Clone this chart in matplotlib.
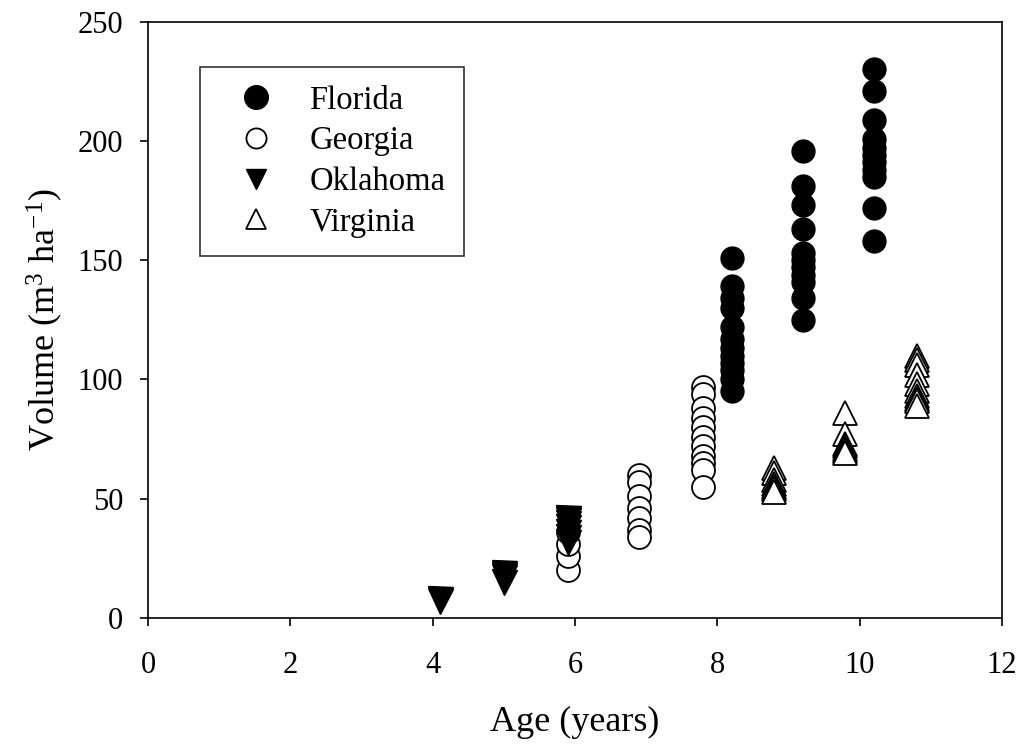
import matplotlib
matplotlib.use("Agg")
import matplotlib.pyplot as plt

plt.rcParams['font.family'] = ['Liberation Serif', 'DejaVu Serif']
plt.rcParams['mathtext.fontset'] = 'custom'
plt.rcParams['mathtext.rm'] = 'Liberation Serif'
plt.rcParams['mathtext.it'] = 'Liberation Serif:italic'

# Data
florida_age = [8.2] * 12 + [9.2] * 11 + [10.2] * 11
florida_vol = [151, 139, 134, 130, 122, 117, 113, 110, 107, 104, 100, 95,
               196, 181, 173, 163, 153, 150, 147, 144, 141, 134, 125,
               230, 221, 209, 201, 197, 194, 191, 188, 185, 172, 158]

georgia_age = [5.9] * 4 + [6.9] * 7 + [7.8] * 11
georgia_vol = [20, 26, 31, 36,
               60, 57, 51, 46, 42, 37, 34,
               97, 94, 88, 84, 80, 76, 72, 68, 65, 62, 55]

oklahoma_age = [4.1] * 2 + [5.0] * 4 + [5.9] * 7
oklahoma_vol = [8, 7,
                19, 18, 17, 15,
                42, 41, 40, 38, 36, 34, 32]

virginia_age = [8.8] * 7 + [9.8] * 7 + [10.8] * 10
virginia_vol = [63, 61, 58, 56, 55, 54, 53,
                86, 77, 73, 72, 71, 70, 69,
                110, 108, 106, 102, 98, 95, 93, 92, 91, 89]

x_ticks = [0, 2, 4, 6, 8, 10, 12]
y_ticks = [0, 50, 100, 150, 200, 250]

fig = plt.figure(figsize=(10.24, 7.5), dpi=100)
ax = fig.add_axes([0.1445, 0.176, 0.834, 0.795])

ms = 16.5
ax.plot(florida_age, florida_vol, linestyle='none', marker='o', ms=ms,
        mfc='black', mec='black', mew=1.0, label='Florida')
ax.plot(georgia_age, georgia_vol, linestyle='none', marker='o', ms=ms,
        mfc='white', mec='black', mew=1.3, label='Georgia')
ax.plot(oklahoma_age, oklahoma_vol, linestyle='none', marker='v', ms=18,
        mfc='black', mec='black', mew=1.0, label='Oklahoma')
ax.plot(virginia_age, virginia_vol, linestyle='none', marker='^', ms=17,
        mfc='white', mec='black', mew=1.3, label='Virginia')

ax.set_xlim(0, 12)
ax.set_ylim(0, 250)
ax.set_xticks(x_ticks)
ax.set_yticks(y_ticks)
ax.tick_params(direction='out', length=5.8, width=1.2, labelsize=22,
               top=False, right=False)
ax.tick_params(axis='x', pad=18)
ax.tick_params(axis='y', pad=12)
for s in ax.spines.values():
    s.set_linewidth(1.2)

ax.set_xlabel('Age (years)', fontsize=26, labelpad=19)
ax.set_ylabel(r'Volume (m$^{3}$ ha$^{-1}$)', fontsize=26, labelpad=9)

leg = ax.legend(loc='upper left', bbox_to_anchor=(0.061, 0.9245),
                fontsize=23.5, frameon=True, fancybox=False, edgecolor='black',
                borderpad=0.57, labelspacing=0.31, handletextpad=0.48,
                handlelength=2.3, borderaxespad=0)
leg.get_frame().set_linewidth(1.2)
for h, size in zip(leg.legend_handles, [17, 14.5, 15, 15]):
    h.set_markersize(size)

fig.savefig('out.png', dpi=100)
